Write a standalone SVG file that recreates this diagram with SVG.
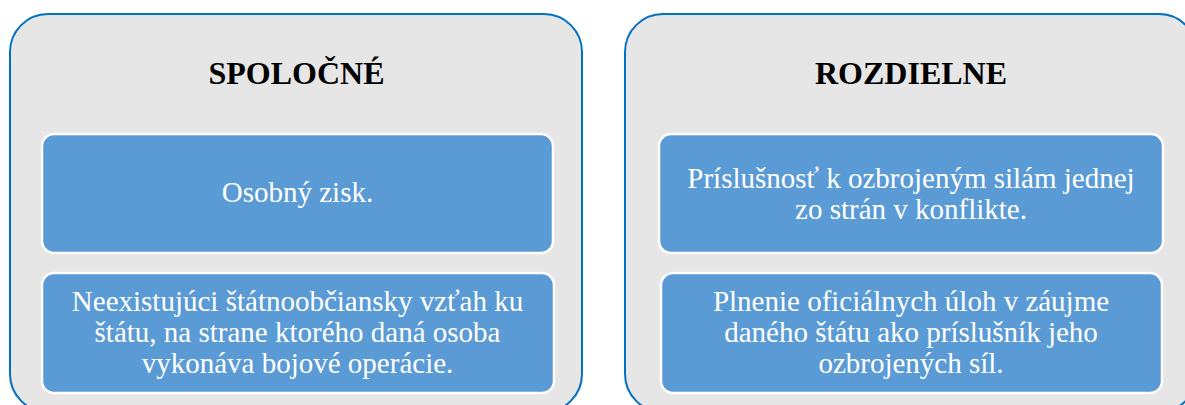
<svg xmlns="http://www.w3.org/2000/svg" width="1185" height="405" viewBox="0 0 1185 405">
  <style>
    .panel { fill: #E6E6E6; stroke: #0070C0; stroke-width: 2; }
    .card { fill: #5B9BD5; stroke: #FFFFFF; stroke-width: 2.5; }
    .title { font-family: "Liberation Serif", "Times New Roman", serif; font-size: 32px; font-weight: bold; fill: #000000; text-anchor: middle; }
    .body { font-family: "Liberation Serif", "Times New Roman", serif; font-size: 29px; fill: #FFFFFF; text-anchor: middle; }
  </style>
  <rect width="1185" height="405" fill="#FFFFFF"/>

  <!-- common traits -->
  <g id="panel-common">
    <rect class="panel" x="10" y="14" width="572" height="398" rx="38" ry="38"/>
    <text class="title" x="296.5" y="84">SPOLOČNÉ</text>
  </g>
  <g id="common-1">
    <rect class="card" x="42" y="134" width="511" height="119" rx="12" ry="12"/>
    <text class="body" x="297.5" y="202">Osobný zisk.</text>
  </g>
  <g id="common-2">
    <rect class="card" x="42" y="273" width="512" height="120" rx="12" ry="12"/>
    <text class="body" x="297.5" y="311">Neexistujúci štátnoobčiansky vzťah ku</text>
    <text class="body" x="297.5" y="342">štátu, na strane ktorého daná osoba</text>
    <text class="body" x="297.5" y="373">vykonáva bojové operácie.</text>
  </g>

  <!-- differing traits -->
  <g id="panel-different">
    <rect class="panel" x="625" y="14" width="572" height="398" rx="38" ry="38"/>
    <text class="title" x="911" y="84">ROZDIELNE</text>
  </g>
  <g id="different-1">
    <rect class="card" x="659" y="134" width="504" height="119" rx="12" ry="12"/>
    <text class="body" x="911" y="188">Príslušnosť k ozbrojeným silám jednej</text>
    <text class="body" x="911" y="219">zo strán v konflikte.</text>
  </g>
  <g id="different-2">
    <rect class="card" x="661" y="273" width="501" height="120" rx="12" ry="12"/>
    <text class="body" x="911" y="311">Plnenie oficiálnych úloh v záujme</text>
    <text class="body" x="911" y="342">daného štátu ako príslušník jeho</text>
    <text class="body" x="911" y="373">ozbrojených síl.</text>
  </g>

  <!-- no connectors in this diagram -->
  <g id="connectors"/>
</svg>
